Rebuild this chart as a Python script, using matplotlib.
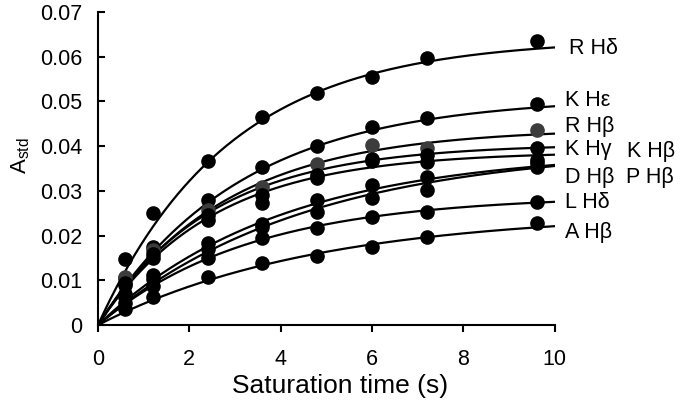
import numpy as np
import matplotlib
matplotlib.use("Agg")
import matplotlib.pyplot as plt

plt.rcParams['font.family'] = ['Liberation Sans', 'DejaVu Sans']
plt.rcParams['mathtext.fontset'] = 'custom'
plt.rcParams['mathtext.rm'] = 'Liberation Sans'
plt.rcParams['mathtext.it'] = 'Liberation Sans'

# ---- data ----
t_sat = [0.6, 1.2, 2.4, 3.6, 4.8, 6.0, 7.2, 9.6]
labels = ["R Hδ", "K Hε", "R Hβ", "K Hγ", "K Hβ", "D Hβ", "P Hβ", "L Hδ", "A Hβ"]

R_Hd = [0.0147, 0.0250, 0.0367, 0.0465, 0.0518, 0.0555, 0.0596, 0.0635]
K_He = [0.0105, 0.0175, 0.0279, 0.0354, 0.0400, 0.0443, 0.0463, 0.0494]
R_Hb = [0.0107, 0.0168, 0.0258, 0.0309, 0.0360, 0.0402, 0.0395, 0.0437]
K_Hg = [0.0095, 0.0160, 0.0245, 0.0291, 0.0335, 0.0372, 0.0380, 0.0395]
K_Hb = [0.0090, 0.0150, 0.0235, 0.0272, 0.0328, 0.0366, 0.0365, 0.0368]
D_Hb = [0.0070, 0.0112, 0.0183, 0.0227, 0.0279, 0.0313, 0.0330, 0.0362]
P_Hb = [0.0062, 0.0104, 0.0171, 0.0220, 0.0253, 0.0283, 0.0302, 0.0354]
L_Hd = [0.0050, 0.0088, 0.0149, 0.0194, 0.0218, 0.0242, 0.0253, 0.0275]
A_Hb = [0.0035, 0.0062, 0.0108, 0.0138, 0.0154, 0.0175, 0.0196, 0.0229]

# fitted build-up curve parameters A_std = A_max * (1 - exp(-k t))
A_max = [0.0640, 0.0510, 0.0440, 0.0405, 0.0388, 0.0390, 0.0400, 0.0290, 0.0252]
k_sat = [0.350, 0.320, 0.360, 0.400, 0.400, 0.250, 0.220, 0.300, 0.210]

series = [R_Hd, K_He, R_Hb, K_Hg, K_Hb, D_Hb, P_Hb, L_Hd, A_Hb]

# ---- layout ----
marker_colors = ['black', 'black', '#3c3c3c', 'black', 'black', 'black', 'black', 'black', 'black']
label_pos = [(10.30, 0.0618), (10.22, 0.0503), (10.22, 0.0445), (10.22, 0.0392),
             (11.58, 0.0388), (10.22, 0.0331), (11.55, 0.0331), (10.22, 0.0274), (10.22, 0.0208)]

fig = plt.figure(figsize=(6.85, 4.11), dpi=100)
ax = fig.add_axes([0.143, 0.209, 0.667, 0.762])

tt = np.linspace(0, 10, 300)
for vals, A, k, c in zip(series, A_max, k_sat, marker_colors):
    ax.plot(tt, A * (1 - np.exp(-k * tt)), color='black', lw=1.6, zorder=2)
    ax.plot(t_sat, vals, 'o', color=c, ms=9.5, mec=c, zorder=3, clip_on=False)

for lab, (x, y) in zip(labels, label_pos):
    ax.text(x, y, lab, fontsize=15.5, va='center', ha='left', clip_on=False)

ax.set_xlim(0, 10)
ax.set_ylim(0, 0.07)
ax.set_xticks([0, 2, 4, 6, 8, 10])
ax.set_yticks(np.arange(0, 0.0701, 0.01))
ax.set_yticklabels(['0', '0.01', '0.02', '0.03', '0.04', '0.05', '0.06', '0.07'])
ax.tick_params(axis='y', direction='in', length=5, width=1.5, labelsize=15.5, pad=11)
ax.tick_params(axis='x', direction='out', length=5, width=1.5, labelsize=15.5, pad=12)
for s in ['top', 'right']:
    ax.spines[s].set_visible(False)
for s in ['left', 'bottom']:
    ax.spines[s].set_linewidth(1.5)

ax.set_xlabel('Saturation time (s)', fontsize=19)
ax.set_ylabel(r'A$_{\mathrm{std}}$', fontsize=16)
ax.xaxis.set_label_coords(0.53, -0.155)
ax.yaxis.set_label_coords(-0.145, 0.54)

fig.savefig('out.png', dpi=100)
